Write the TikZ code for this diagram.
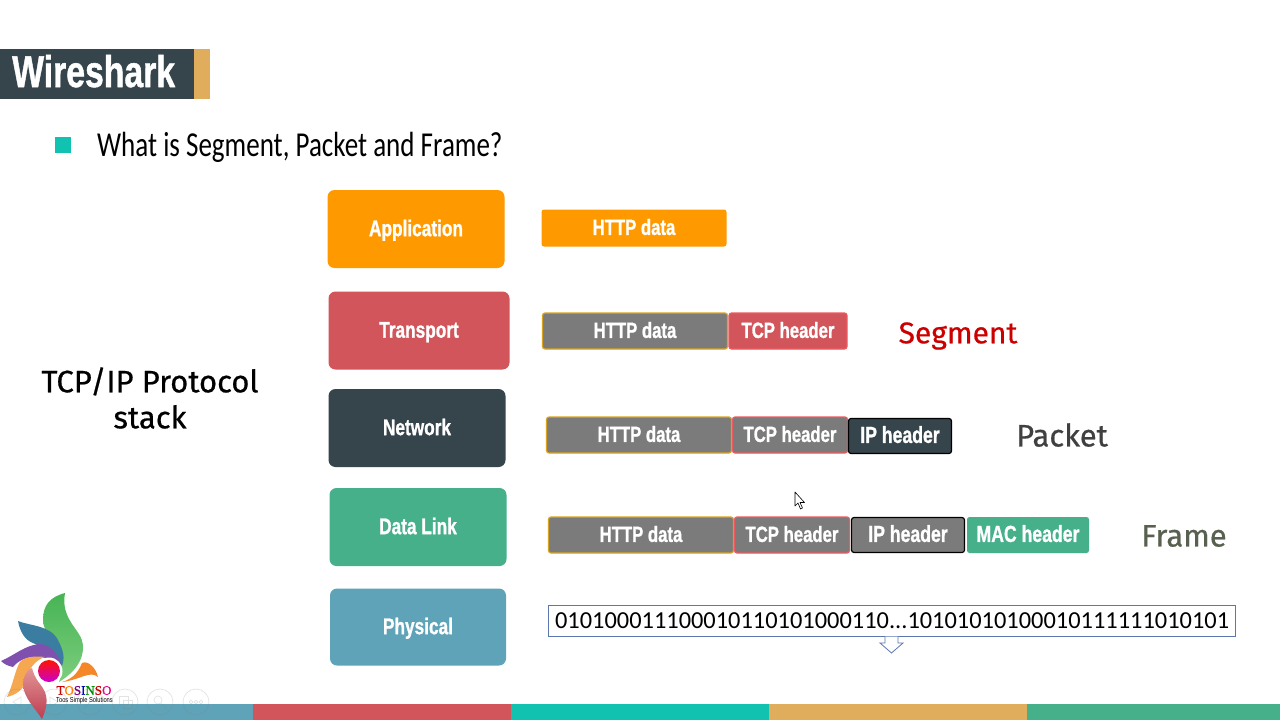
\documentclass[tikz,border=0pt]{standalone}
\usepackage{fontspec}
\setmainfont{Liberation Sans}
\newfontfamily\condfont[BoldFeatures={FakeBold=1.2}]{Liberation Sans}
\newcommand{\cb}[1]{\scalebox{0.76}[1]{#1}}
\newfontfamily\tagfont[FakeStretch=0.8]{Liberation Sans}
\newfontfamily\bodyfont{Carlito}
\newfontfamily\handfont[FakeBold=0.6]{Fira Sans}
\newfontfamily\logofont[FakeBold=1]{Liberation Serif}
\definecolor{cOrange}{HTML}{FF9900}
\definecolor{cRed}{HTML}{D2555B}
\definecolor{cDark}{HTML}{36444B}
\definecolor{cGreen}{HTML}{45B08A}
\definecolor{cBlue}{HTML}{5FA3B8}
\definecolor{cTeal}{HTML}{12C2B0}
\definecolor{cSand}{HTML}{E0AD5C}
\definecolor{cGray}{HTML}{7B7B7B}
\definecolor{cGold}{HTML}{D9A520}
\definecolor{cRim}{HTML}{EE5A5F}
\definecolor{cLine}{HTML}{5B76B0}
\definecolor{cFrame}{HTML}{586050}
\definecolor{lfGreenA}{HTML}{46B455}
\definecolor{lfGreenB}{HTML}{7DCD7D}
\definecolor{lfBlue}{HTML}{3A7DA0}
\definecolor{lfPurple}{HTML}{8050AF}
\definecolor{lfOrange}{HTML}{F5A850}
\definecolor{lfRoseA}{HTML}{E19696}
\definecolor{lfRoseB}{HTML}{BE3C50}
\definecolor{lfTail}{HTML}{F58728}
\tikzset{
 x=1pt,y=-1pt,
 layer/.style={rounded corners=7pt,text=white,font=\condfont\bfseries\fontsize{22.7}{22.7}\selectfont,inner sep=0pt,anchor=center,text height=14.3pt,text depth=0pt},
 chip/.style={rounded corners=2.5pt,text=white,font=\condfont\bfseries\fontsize{22}{22}\selectfont,inner sep=0pt,anchor=center,line width=1.2pt,text height=13.8pt,text depth=0pt},
 widechip/.style={chip,font=\condfont\bfseries\fontsize{23.2}{23.2}\selectfont},
 hand/.style={font=\handfont\fontsize{31}{36}\selectfont,align=center,inner sep=0pt},
 navring/.style={draw=gray,opacity=.22,line width=.7pt},
}
\begin{document}
\begin{tikzpicture}
\useasboundingbox (0,0) rectangle (1280,720);
\fill[white] (0,0) rectangle (1280,720);
% title
\fill[cDark] (0,49) rectangle (194,99);
\fill[cSand] (194,49) rectangle (210,99);
\node[text=white,anchor=west,inner sep=0pt,font=\condfont\bfseries\fontsize{44.4}{44.4}\selectfont,text height=30pt,text depth=0pt] (title) at (12,72) {\cb{Wireshark}};
\fill[cTeal] (55,137) rectangle (71,153);
\node[anchor=west,inner sep=0pt,font=\bodyfont\fontsize{35}{35}\selectfont] (q) at (97,147) {\scalebox{0.772}[1]{What is Segment, Packet and Frame?}};
% layers
\node[layer,fill=cOrange,minimum width=177pt,minimum height=78pt] (app) at (416,229) {\cb{Application}};
\node[layer,fill=cRed,minimum width=181pt,minimum height=78pt] (tra) at (419,330.5) {\cb{Transport}};
\node[layer,fill=cDark,minimum width=177pt,minimum height=78pt] (net) at (417,428) {\cb{Network}};
\node[layer,fill=cGreen,minimum width=177pt,minimum height=78pt] (dat) at (418,527) {\cb{Data Link}};
\node[layer,fill=cBlue,minimum width=176pt,minimum height=77pt] (phy) at (418,627) {\cb{Physical}};
% chips
\node[chip,fill=cOrange,minimum width=185pt,minimum height=37pt] (a1) at (634,228) {\cb{HTTP data}};
\node[chip,fill=cGray,draw=cGold,minimum width=185pt,minimum height=36pt] (t1) at (635,331) {\cb{HTTP data}};
\node[chip,fill=cRed,draw=cRim,minimum width=118pt,minimum height=36pt] (t2) at (788,331) {\cb{TCP header}};
\node[chip,fill=cGray,draw=cGold,minimum width=185pt,minimum height=36pt] (n1) at (639,435) {\cb{HTTP data}};
\node[chip,fill=cGray,draw=cRim,minimum width=115pt,minimum height=36pt] (n2) at (790,435) {\cb{TCP header}};
\node[widechip,fill=cDark,draw=black,minimum width=103pt,minimum height=35pt] (n3) at (900,436) {\cb{IP header}};
\node[chip,fill=cGray,draw=cGold,minimum width=185pt,minimum height=36pt] (d1) at (641,535) {\cb{HTTP data}};
\node[chip,fill=cGray,draw=cRim,minimum width=115pt,minimum height=36pt] (d2) at (792,535) {\cb{TCP header}};
\node[widechip,fill=cGray,draw=black,minimum width=113pt,minimum height=35pt] (d3) at (908,535) {\cb{IP header}};
\node[widechip,fill=cGreen,minimum width=122pt,minimum height=36pt] (d4) at (1028,535) {\cb{MAC header}};
% hand labels
\node[hand] (stack) at (150,398) {TCP/IP Protocol\\stack};
\node[hand,text=red!80!black,font=\handfont\fontsize{30}{36}\selectfont] (seg) at (958,336) {Segment};
\node[hand,text=black!75] (pkt) at (1062,435) {Packet};
\node[hand,text=cFrame] (frm) at (1184,536) {Frame};
% bits
\node[draw=cLine,line width=1pt,minimum width=687pt,minimum height=31pt,inner sep=0pt,font=\bodyfont\fontsize{24.4}{24.4}\selectfont] (bits) at (892,620.5) {010100011100010110101000110...10101010100010111111010101};
\draw[draw=cLine,line width=.8pt,fill=white] (885,636.5) -- (885,643) -- (880,643) -- (891.5,653) -- (903,643) -- (898,643) -- (898,636.5);
% cursor
\draw[fill=white,line width=.6pt,line join=round] (795,492) -- (795,506) -- (798,503) -- (800.5,509) -- (802.5,508) -- (800,502.5) -- (804.5,502.5) -- cycle;
% footer
\fill[cBlue] (0,704) rectangle (253,720);
\fill[cRed] (253,704) rectangle (511,720);
\fill[cTeal] (511,704) rectangle (769,720);
\fill[cSand] (769,704) rectangle (1027,720);
\fill[cGreen] (1027,704) rectangle (1280,720);
% logo
\shade[top color=lfGreenA,bottom color=lfGreenB] (65,593) .. controls (50,597) and (43,605) .. (43,620) .. controls (43,632) and (53,637) .. (58,648) .. controls (62,660) and (63,670) .. (59,682) .. controls (75,672) and (84,660) .. (83,645) .. controls (82,630) and (60,620) .. (65,593) -- cycle;
\fill[lfBlue] (18,621) .. controls (30,626) and (50,625) .. (58,640) .. controls (63,650) and (66,658) .. (61,668) .. controls (58,655) and (48,650) .. (33,643) .. controls (25,640) and (20,632) .. (18,621) -- cycle;
\fill[lfPurple] (1,661) .. controls (15,655) and (25,645) .. (40,644) .. controls (50,644) and (60,655) .. (62,668) .. controls (50,655) and (25,652) .. (13,667) .. controls (8,666) and (4,664) .. (1,661) -- cycle;
\fill[lfOrange] (7,697) .. controls (13,685) and (15,670) .. (20,662) .. controls (26,656) and (36,656) .. (45,657) .. controls (35,660) and (28,670) .. (26,680) .. controls (24,690) and (15,695) .. (7,697) -- cycle;
\shade[top color=lfRoseA,bottom color=lfRoseB] (42,719) .. controls (48,705) and (49,695) .. (40,684) .. controls (35,678) and (33,672) .. (32,668) .. controls (26,670) and (23,678) .. (23,685) .. controls (24,698) and (35,708) .. (42,719) -- cycle;
\fill[lfTail] (62,682) .. controls (75,678) and (79,670) .. (82,663) .. controls (88,660) and (96,668) .. (98,677) .. controls (90,670) and (80,680) .. (62,682) -- cycle;
\fill[white] (49,671) circle (13.5);
\shade[top color=red!85!orange,bottom color=magenta!80!black] (49,671) circle (11);
\node[inner sep=0pt,font=\logofont\fontsize{13}{13}\selectfont] (logo) at (84,690.5) {\textcolor{red!80!black}{T}\textcolor{orange}{O}\textcolor{violet}{S}\textcolor{blue!70!black}{I}\textcolor{green!55!black}{N}\textcolor{red!80!black}{S}\textcolor{magenta}{O}};
\node[inner sep=0pt,font=\tagfont\fontsize{7.2}{7.2}\selectfont] (logotag) at (84.5,701) {Toos Simple Solutions};
% faint player controls
\foreach \cx in {17,54,90,125,160,196}{\draw[navring] (\cx,702) circle (13);}
\draw[navring] (21,697) -- (13,702) -- (21,707) -- cycle;
\draw[navring] (50,697) -- (58,702) -- (50,707) -- cycle;
\draw[navring] (84,708) -- (96,696);
\draw[navring] (119,696) rectangle (128,704) (123,700) rectangle (132,708);
\draw[navring] (158,700) circle (4) (161,703) -- (167,709);
\foreach \dx in {191,196,201}{\draw[navring] (\dx,702) circle (1.8);}
\end{tikzpicture}
\end{document}
